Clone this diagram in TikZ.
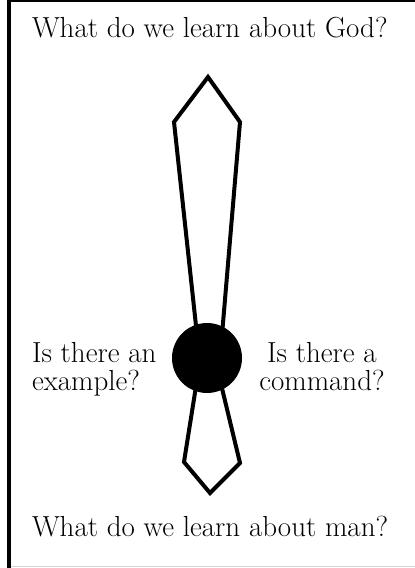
\documentclass[tikz,border=0pt]{standalone}
\usepackage{tikz}
\usetikzlibrary{positioning}
\definecolor{ink}{HTML}{000000}
\definecolor{edgegray}{HTML}{D4D4D4}
\tikzset{
  question/.style={
    inner sep=0pt,outer sep=0pt,
    font=\fontsize{29}{28}\selectfont,text=ink
  },
  blade/.style={draw=ink,line width=4pt,line join=miter,line cap=butt},
  hub/.style={circle,fill=ink,inner sep=0pt,minimum size=70pt}
}

\begin{document}
\begin{tikzpicture}[x=1pt,y=-1pt]
\useasboundingbox (0,0) rectangle (415,568);
% frame
\draw[ink,line width=1.5pt] (9,1) -- (415,1);
\draw[edgegray,line width=1pt] (9,566) -- (415,566);
\draw[ink,line width=4pt] (9,0) -- (9,568);

\node[question,anchor=base west] (god) at (32,37) {What do we learn about God?};
\node[question,anchor=base west] (man) at (32,536) {What do we learn about man?};

% upper blade
\draw[blade] (197,335) -- (174,122) -- (208,77) -- (240,122) -- (222,335);
% lower blade
\draw[blade] (197,380) -- (184,462) -- (210,493) -- (240,463) -- (220,380);

% the hub in the middle
\node[hub] (center) at (207,358) {};

\node[question,align=left,anchor=north west] (example) at (32,342) {Is there an\\example?};
\node[question,align=center,anchor=north] (command) at (322,342) {Is there a\\command?};
\end{tikzpicture}
\end{document}
